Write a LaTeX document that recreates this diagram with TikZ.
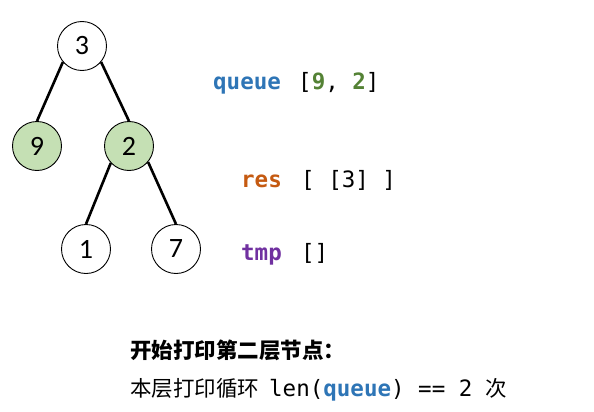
\documentclass[tikz,border=0pt]{standalone}
\usepackage{fontspec}
\setmainfont{Carlito}
\setmonofont{DejaVu Sans Mono}
\newfontfamily\cjk{Noto Sans CJK SC}
\usetikzlibrary{positioning}
\usepackage{xcolor}
\definecolor{qblue}{HTML}{2E75B6}
\definecolor{vgreen}{HTML}{548235}
\definecolor{resorange}{HTML}{C55A11}
\definecolor{tmppurple}{HTML}{7030A0}
\definecolor{leafgreen}{HTML}{C5E0B4}

\begin{document}
\begin{tikzpicture}[x=1pt, y=-1pt,
  treenode/.style={circle, draw=black, line width=0.9pt, fill=white, minimum size=49pt, inner sep=0pt, font=\fontsize{28}{28}\selectfont},
  inqueue/.style={treenode, fill=leafgreen},
  edge/.style={line width=2.6pt},
  code/.style={anchor=base west, inner sep=0pt, font=\fontsize{22.5}{22.5}\ttfamily},
  cjktext/.style={anchor=base west, inner sep=0pt, font=\fontsize{21.5}{21.5}\cjk}]
\useasboundingbox (0,0) rectangle (594,412);
% the tree
\node[treenode] (n3) at (82,46) {3};
\node[inqueue] (n9) at (37,146) {9};
\node[inqueue] (n2) at (129,146) {2};
\node[treenode] (n1) at (86,249) {1};
\node[treenode] (n7) at (176,249) {7};
\draw[edge] (n3.220) -- (n9.north);
\draw[edge] (n3.320) -- (n2.north);
\draw[edge] (n2.223) -- (n1.north);
\draw[edge] (n2.320) -- (n7.north);
% variables
\node[code, text=qblue] (qname) at (213,89) {\textbf{queue}};
\node[code] (qval) at (298,89) {[\textcolor{vgreen}{\textbf{9}}, \textcolor{vgreen}{\textbf{2}}]};
\node[code, text=resorange] (resname) at (241,187) {\textbf{res}};
\node[code] (resval) at (301,187) {[ [3] ]};
\node[code, text=tmppurple] (tmpname) at (241,260) {\textbf{tmp}};
\node[code] (tmpval) at (301,260) {[]};
% caption
\node[cjktext] (title) at (130,358) {\bfseries 开始打印第二层节点：};
\node[cjktext] (loopline) at (130,396) {本层打印循环\hspace{10pt}{\fontsize{22.5}{22.5}\ttfamily len(\textcolor{qblue}{\textbf{queue}}) == 2\ }次};
\end{tikzpicture}
\end{document}
